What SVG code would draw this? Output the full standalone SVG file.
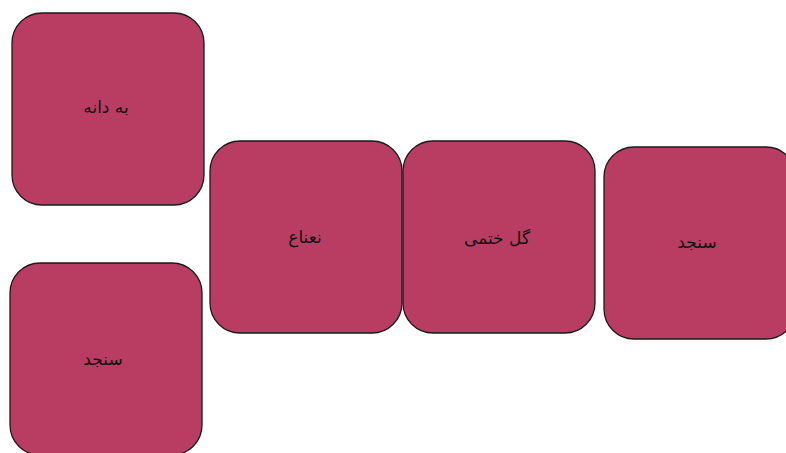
<svg xmlns="http://www.w3.org/2000/svg" width="786" height="453" viewBox="0 0 786 453">
<style>
.n{fill:#b93d63;stroke:#1a1a1a;stroke-width:1.3}
.t{font-family:"DejaVu Sans","Liberation Sans",sans-serif;font-size:17px;fill:#111;text-anchor:middle;dominant-baseline:central}
</style>
<rect width="786" height="453" fill="#fff"/>
<g id="connectors"></g>
<g id="node-behdaneh"><rect class="n" x="12" y="13" width="192" height="192" rx="30"/><text class="t" x="106" y="107" direction="rtl">به دانه</text></g>
<g id="node-naana"><rect class="n" x="210" y="141" width="192" height="192" rx="30"/><text class="t" x="305" y="237" direction="rtl">نعناع</text></g>
<g id="node-golkhatmi"><rect class="n" x="403" y="141" width="192" height="192" rx="30"/><text class="t" x="497" y="238" direction="rtl">گل ختمی</text></g>
<g id="node-senjed-right"><rect class="n" x="604" y="147" width="192" height="192" rx="30"/><text class="t" x="697" y="242" direction="rtl">سنجد</text></g>
<g id="node-senjed-bottom"><rect class="n" x="10" y="263" width="192" height="192" rx="30"/><text class="t" x="103" y="359" direction="rtl">سنجد</text></g>
</svg>
